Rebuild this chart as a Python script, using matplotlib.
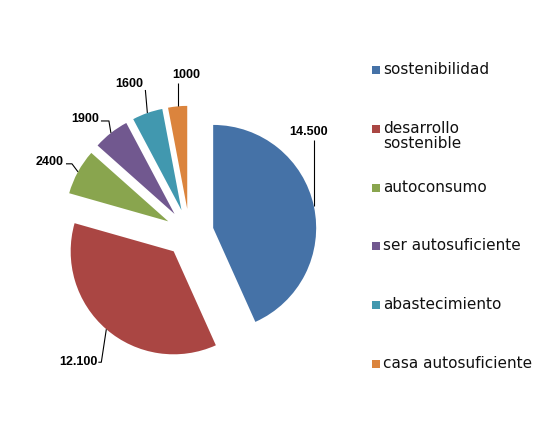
import numpy as np
import matplotlib
matplotlib.use("Agg")
import matplotlib.pyplot as plt
from matplotlib.patches import Rectangle

# data
categories = ["sostenibilidad", "desarrollo\nsostenible", "autoconsumo",
              "ser autosuficiente", "abastecimiento", "casa autosuficiente"]
values = [14500, 12100, 2400, 1900, 1600, 1000]
value_labels = ["14.500", "12.100", "2400", "1900", "1600", "1000"]
colors = ["#4572A7", "#AA4643", "#89A54E", "#71588F", "#4198AF", "#DB843D"]

W, H = 553, 440
R = 103.0            # pie radius in pixels
cx, cy = 189.5, 233  # pie centre (pixels from top-left)

fig = plt.figure(figsize=(W / 100, H / 100), dpi=100)
ax = fig.add_axes([0, 0, 1, 1])

wedges, _ = ax.pie(values, colors=colors, startangle=90, counterclock=False,
                   radius=1, center=(0, 0), explode=[0.235] * len(values),
                   wedgeprops=dict(linewidth=0))
# data units: 1 = pie radius (set after pie, which resets limits)
ax.set_xlim(-cx / R, (W - cx) / R)
ax.set_ylim(-(H - cy) / R, cy / R)
ax.axis("off")

# leader lines: (elbow dx, dy, tail dx) in pixels relative to arc mid point,
# text offset from line end, alignment
leaders = [
    ((0, 66, 0), (-5, 2), "center", "bottom"),
    ((-5, -33, -3), (-1, 0), "right", "center"),
    ((-6, 8, -6), (-2, 2), "right", "center"),
    ((-2, 12, -8), (-2, 2), "right", "center"),
    ((-2, 23, 0), (-2, 6), "right", "center"),
    ((0, 23, 0), (9, 8), "center", "center"),
]

for w, lab, (elb, toff, ha, va) in zip(wedges, value_labels, leaders):
    tm = np.deg2rad((w.theta1 + w.theta2) / 2)
    x0 = w.center[0] + np.cos(tm)
    y0 = w.center[1] + np.sin(tm)
    x1, y1 = x0 + elb[0] / R, y0 + elb[1] / R
    x2 = x1 + elb[2] / R
    ax.plot([x0, x1, x2], [y0, y1, y1], color="black", lw=0.8,
            solid_capstyle="butt")
    ax.text(x2 + toff[0] / R, y1 + toff[1] / R, lab, ha=ha, va=va,
            fontsize=9, fontweight="bold", family="Liberation Sans",
            color="black")

# legend, drawn in figure pixels
leg_x = 372
leg_top = 70
leg_step = 58.8
for i, (c, name) in enumerate(zip(colors, categories)):
    yc = leg_top + i * leg_step
    fig.patches.append(Rectangle(((leg_x) / W, 1 - (yc + 4) / H), 8 / W, 8 / H,
                                 transform=fig.transFigure, facecolor=c,
                                 edgecolor="none"))
    fig.text((leg_x + 11) / W, 1 - (yc - 8) / H, name, ha="left", va="top",
             fontsize=11, family="DejaVu Sans", color="#111111",
             linespacing=1.0)

fig.savefig("out.png", dpi=100)
